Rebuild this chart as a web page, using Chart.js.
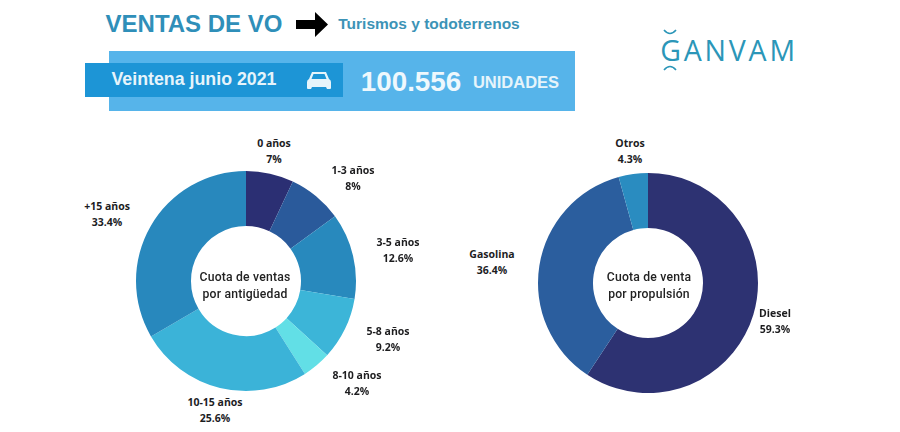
<!DOCTYPE html>
<html lang="es">
<head>
<meta charset="utf-8">
<title>Ventas de VO</title>
<script src="https://cdn.jsdelivr.net/npm/chart.js@4/dist/chart.umd.min.js"></script>
<style>
  html, body { margin: 0; padding: 0; background: #fff; }
  #page { position: relative; width: 900px; height: 432px; overflow: hidden; font-family: "Liberation Sans", sans-serif; }
  #page > * { position: absolute; }
  .txt { white-space: nowrap; line-height: 1; transform: translate(-50%, -50%); }
  .slice-label { font: 700 10.5px/15.5px "Open Sans", sans-serif; color: #1d1d1f; text-align: center; white-space: nowrap; transform: translate(-50%, -50%); }
  .center-label { font: 500 12.2px/17px Roboto, sans-serif; letter-spacing: 0.2px; color: #222; text-align: center; white-space: nowrap; transform: translate(-50%, -50%); }
  canvas { display: block; }
</style>
</head>
<body>
<div id="page">
  <div class="txt" style="left:194px;top:24px;font-weight:700;font-size:24px;color:#2f8fb9">VENTAS DE VO</div>
  <svg style="left:296px;top:12px" width="33" height="25" viewBox="0 0 33 25"><path d="M0 8h19V0l13 12.5L19 25v-8H0z" fill="#000"/></svg>
  <div class="txt" style="left:429px;top:24px;font-weight:700;font-size:15.500px;color:#3c93b6">Turismos y todoterrenos</div>

  <div style="left:109px;top:51px;width:466px;height:60px;background:#56b4ea"></div>
  <div style="left:85px;top:63px;width:258px;height:34px;background:#1d95d6"></div>
  <div class="txt" style="left:194px;top:80px;font-weight:700;font-size:17.800px;color:#e6f4fb">Veintena junio 2021</div>
  <svg style="left:307px;top:71px" width="24" height="19" viewBox="0 0 24 19"><path d="M5 1h14l3 7q2 1 2 3v6q0 1-1 1h-3l-1-2H5l-1 2H1q-1 0-1-1v-6q0-2 2-3zM6.500 3 4.500 8h15l-2-5z" fill="#e6f4fb" fill-rule="evenodd"/></svg>
  <div class="txt" style="left:411px;top:82px;font-weight:700;font-size:27.800px;color:#eef8fd">100.556</div>
  <div class="txt" style="left:516px;top:82px;font-weight:700;font-size:16.500px;color:#e6f4fb">UNIDADES</div>

  <svg style="left:660px;top:28px" width="22" height="44" viewBox="0 0 22 44" fill="none" stroke="#2b96b8" stroke-width="1.600"><path d="M4 2q6 7 12 0M4 42q6-7 12 0"/></svg>
  <div class="txt" style="left:729px;top:50px;font-family:'Open Sans',sans-serif;font-weight:400;font-size:28.500px;letter-spacing:2.800px;color:#2b96b8">GANVAM</div>

  <canvas id="edadChart" width="222" height="222" style="left:135px;top:170px"></canvas>
  <canvas id="propChart" width="222" height="222" style="left:537px;top:172px"></canvas>
  <div class="center-label" style="left:245px;top:286px">Cuota de ventas<br>por antigüedad</div>
  <div class="center-label" style="left:649px;top:286px">Cuota de venta<br>por propulsión</div>
</div>

<script>
// Datos
const edadLabels = ['0 años', '1-3 años', '3-5 años', '5-8 años', '8-10 años', '10-15 años', '+15 años'];
const edadValues = [7, 8, 12.6, 9.2, 4.2, 25.6, 33.4];
const edadTexts = ['7%', '8%', '12.6%', '9.2%', '4.2%', '25.6%', '33.4%'];
const edadColors = ['#2b2f73', '#2a5a9b', '#2889bd', '#3cb5d8', '#62dfe6', '#3bb3d8', '#2888bd'];
const edadPos = [[274, 151], [353, 178], [398, 250], [388, 339], [357, 383], [215, 410], [107, 214]];

const propLabels = ['Diesel', 'Gasolina', 'Otros'];
const propValues = [59.3, 36.4, 4.3];
const propTexts = ['59.3%', '36.4%', '4.3%'];
const propColors = ['#2d3272', '#2b5e9e', '#2a8cc0'];
const propPos = [[775, 321], [492, 262], [630, 151]];

function makeDonut(id, labels, values, colors) {
    new Chart(document.getElementById(id), {
        type: 'doughnut',
        data: {
            labels: labels,
            datasets: [{ data: values, backgroundColor: colors, borderWidth: 0 }]
        },
        options: {
            responsive: false,
            animation: false,
            cutout: '50%',
            layout: { padding: 1 },
            plugins: { legend: { display: false }, tooltip: { enabled: false } }
        }
    });
}

function addLabels(labels, texts, pos) {
    const page = document.getElementById('page');
    labels.forEach(function(label, i) {
        const div = document.createElement('div');
        div.className = 'slice-label';
        div.style.left = pos[i][0] + 'px';
        div.style.top = pos[i][1] + 'px';
        div.innerHTML = label + '<br>' + texts[i];
        page.appendChild(div);
    });
}

makeDonut('edadChart', edadLabels, edadValues, edadColors);
makeDonut('propChart', propLabels, propValues, propColors);
addLabels(edadLabels, edadTexts, edadPos);
addLabels(propLabels, propTexts, propPos);
</script>
</body>
</html>
